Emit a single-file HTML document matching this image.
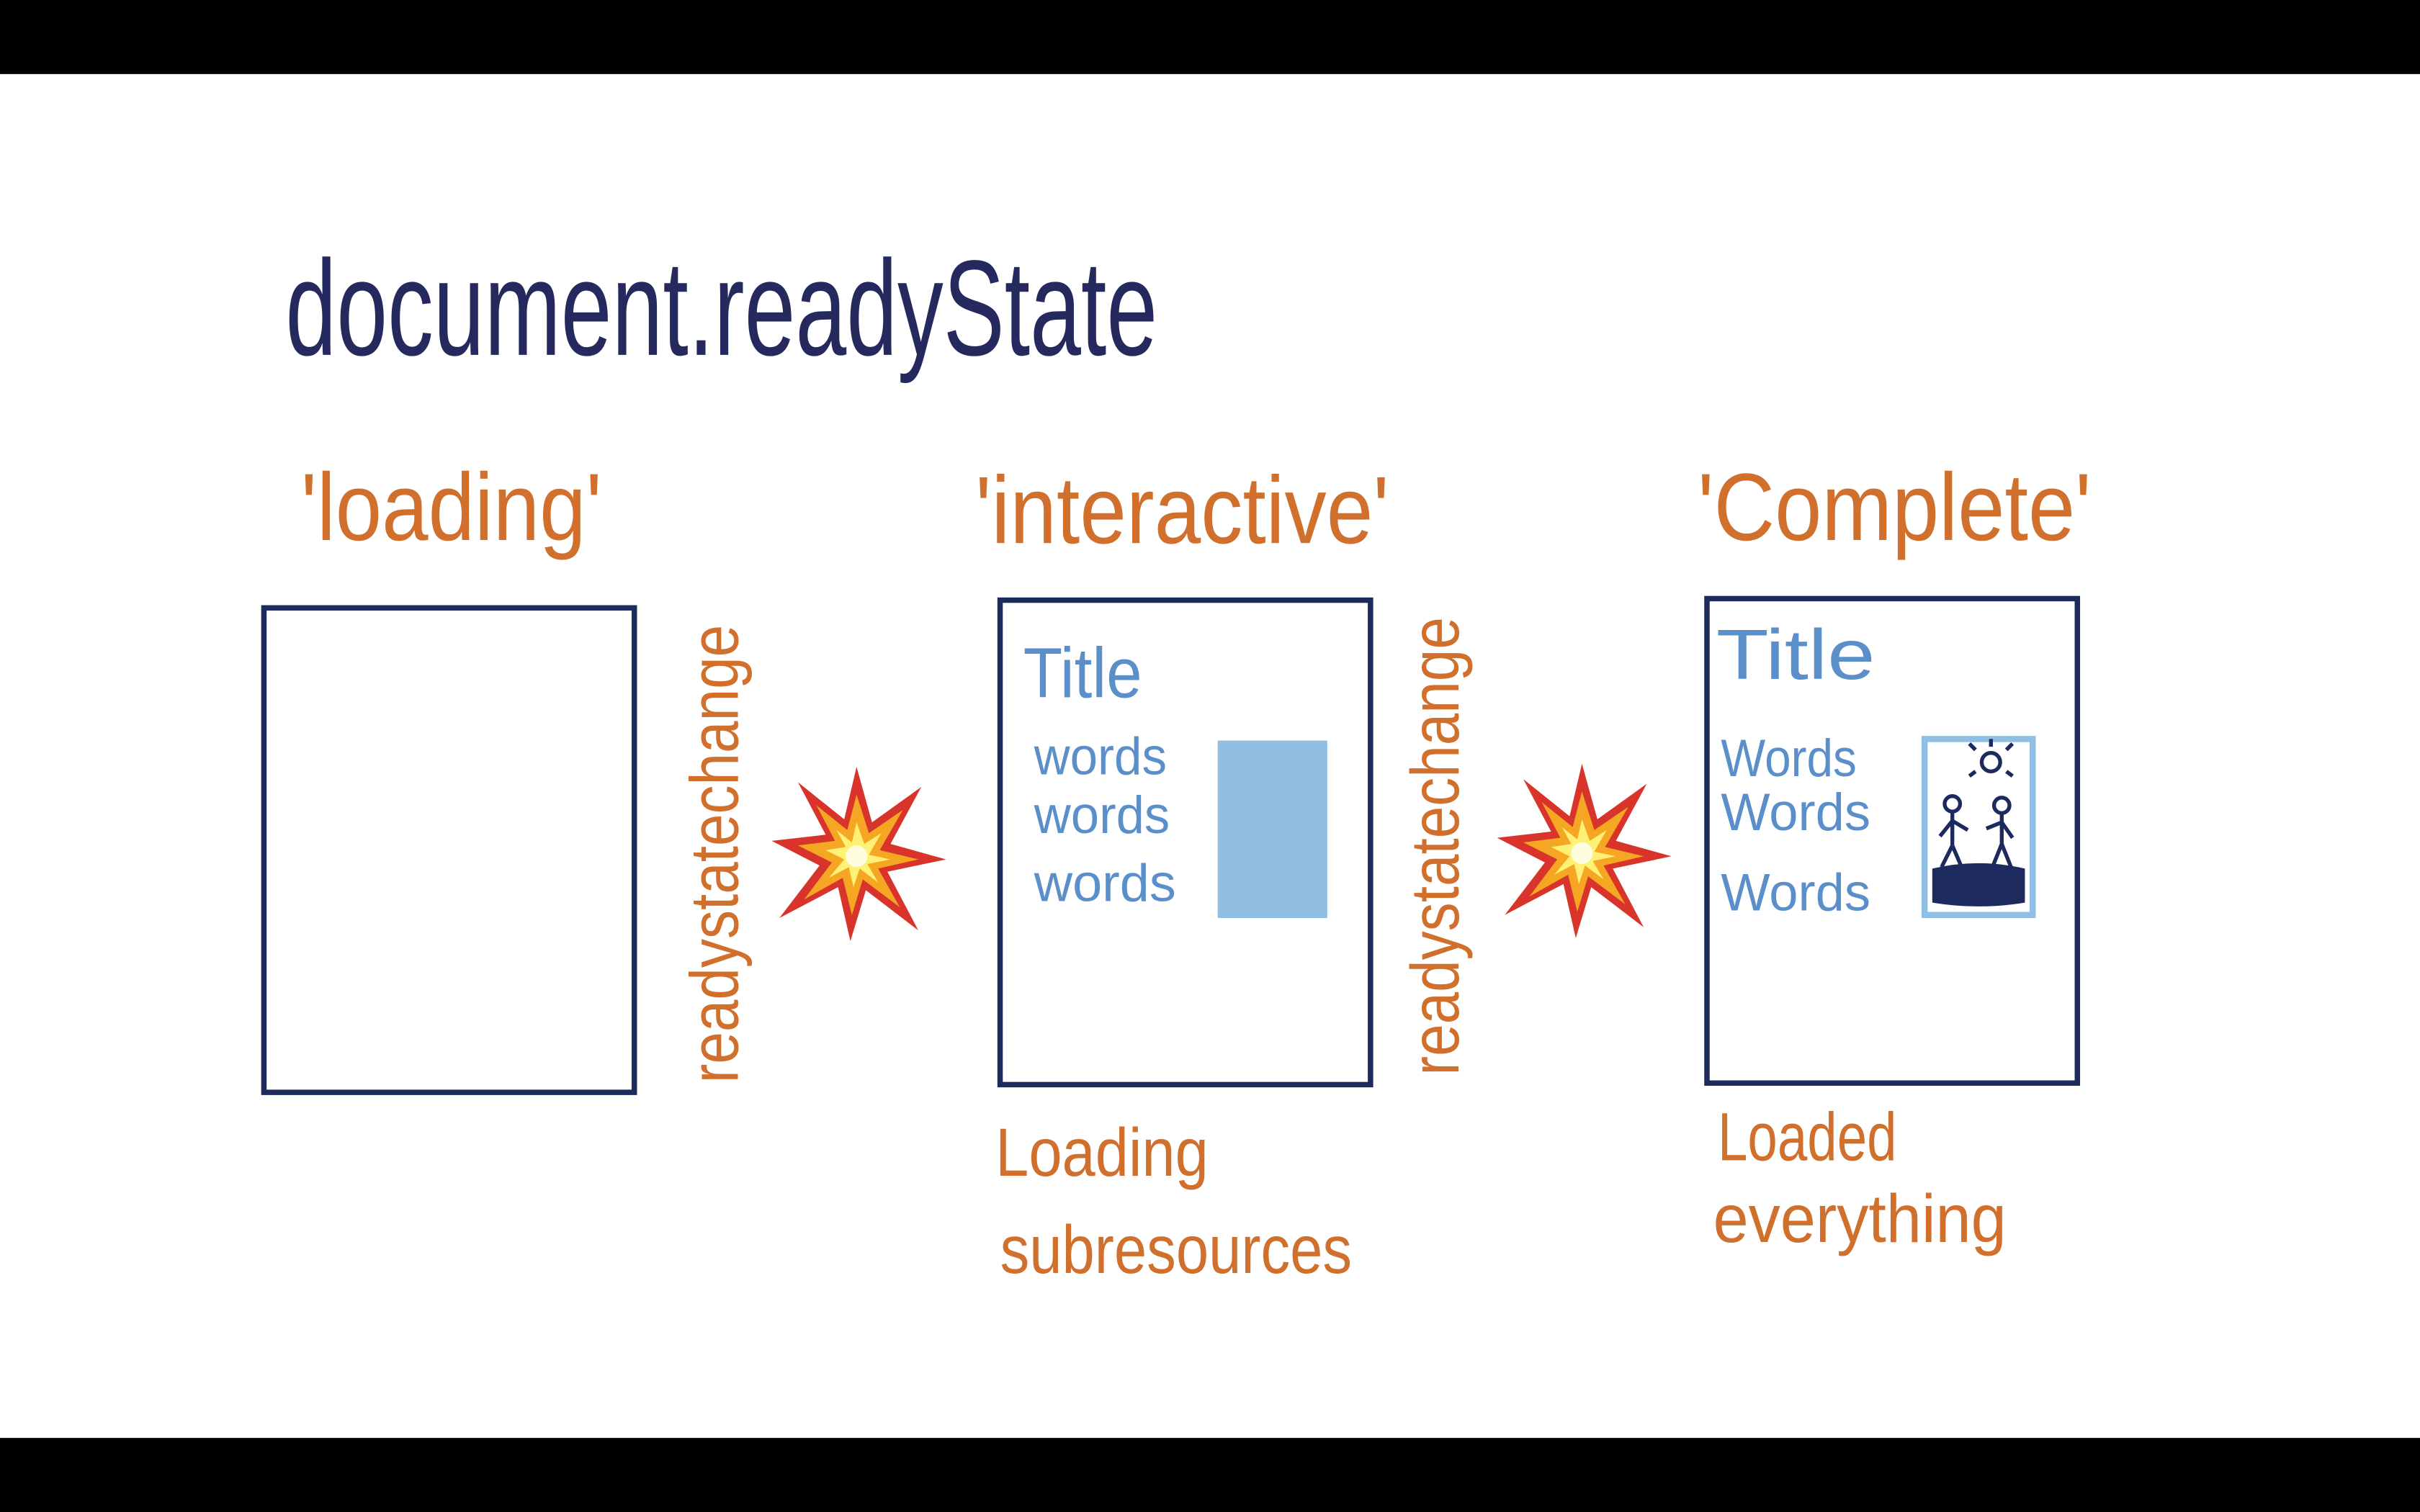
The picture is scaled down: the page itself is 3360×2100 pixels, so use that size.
<!DOCTYPE html>
<html><head><meta charset="utf-8"><style>
html,body{margin:0;padding:0;background:#000;}
svg{display:block;}
text{font-family:"Liberation Sans",sans-serif;}
</style></head><body>
<svg width="3360" height="2100" viewBox="0 0 1568 980" xmlns="http://www.w3.org/2000/svg">
<defs>
<g id="boom">
<polygon points="0,-58 10,-22 42,-45 22,-8 58,2 20,10 40,48 6,22 -4,55 -12,20 -50,40 -24,6 -55,-10 -20,-14 -38,-48 -8,-24" fill="#d9342b"/>
<polygon points="0,-40 8,-15 30,-30 15,-4 40,2 14,8 28,33 4,15 -3,38 -9,14 -34,28 -16,4 -38,-7 -14,-10 -26,-33 -6,-17" fill="#f5a623"/>
<polygon points="0,-22 5,-8 16,-15 8,-1 22,2 7,5 14,17 2,8 -2,20 -5,7 -18,14 -8,2 -20,-4 -7,-6 -13,-17 -3,-9" fill="#fff176"/>
<circle r="7" fill="#fffde0"/>
</g>
</defs>
<rect x="0" y="48" width="1568" height="884" fill="#fff"/>
<text x="185" y="230" font-size="88" fill="#26295e" textLength="565" lengthAdjust="spacingAndGlyphs">document.readyState</text>
<g fill="#d0702c" font-size="62">
<text x="195" y="350" textLength="195" lengthAdjust="spacingAndGlyphs">'loading'</text>
<text x="632" y="352" textLength="268" lengthAdjust="spacingAndGlyphs">'interactive'</text>
<text x="1100" y="350" textLength="255" lengthAdjust="spacingAndGlyphs">'Complete'</text>
</g>
<g fill="none" stroke="#1c2a5e" stroke-width="3.5">
<rect x="171" y="394" width="240" height="314"/>
<rect x="648" y="389" width="240" height="314"/>
<rect x="1106" y="388" width="240" height="314"/>
</g>
<g fill="#d0702c" font-size="44">
<text transform="translate(478,702) rotate(-90)" textLength="297" lengthAdjust="spacingAndGlyphs">readystatechange</text>
<text transform="translate(945,697) rotate(-90)" textLength="297" lengthAdjust="spacingAndGlyphs">readystatechange</text>
</g>
<use href="#boom" x="555" y="555"/>
<use href="#boom" x="1025" y="553"/>
<g fill="#5b8fc9">
<text x="663" y="452" font-size="46" textLength="77" lengthAdjust="spacingAndGlyphs">Title</text>
<text x="670" y="502" font-size="34" textLength="86" lengthAdjust="spacingAndGlyphs">words</text>
<text x="670" y="540" font-size="34" textLength="88" lengthAdjust="spacingAndGlyphs">words</text>
<text x="670" y="584" font-size="34" textLength="92" lengthAdjust="spacingAndGlyphs">words</text>
<text x="1112" y="440" font-size="46" textLength="103" lengthAdjust="spacingAndGlyphs">Title</text>
<text x="1115" y="503" font-size="34" textLength="88" lengthAdjust="spacingAndGlyphs">Words</text>
<text x="1115" y="538" font-size="34" textLength="97" lengthAdjust="spacingAndGlyphs">Words</text>
<text x="1115" y="590" font-size="34" textLength="97" lengthAdjust="spacingAndGlyphs">Words</text>
</g>
<rect x="789" y="480" width="71" height="115" fill="#90bfe3"/>
<rect x="1247" y="479" width="70" height="114" fill="#fff" stroke="#90bfe3" stroke-width="4"/>
<g stroke="#1c2a5e" stroke-width="2.5" fill="none">
<circle cx="1290" cy="494" r="6"/>
<path d="M1280 486l-4-4M1300 486l4-4M1290 484v-5M1280 500l-4 3M1300 500l4 3"/>
<circle cx="1265" cy="521" r="5"/><path d="M1265 526v22M1265 532l-8 10M1265 532l10 6M1265 548l-7 14M1265 548l6 14"/>
<circle cx="1297" cy="522" r="5"/><path d="M1297 527v20M1297 533l-10 4M1297 533l7 10M1297 547l-6 15M1297 547l6 15"/>
</g>
<path d="M1252 563 Q1282 556 1312 563 L1312 585 Q1282 590 1252 585 Z" fill="#1c2a5e"/>
<g fill="#d0702c" font-size="44">
<text x="645" y="762" textLength="138" lengthAdjust="spacingAndGlyphs">Loading</text>
<text x="648" y="825" textLength="228" lengthAdjust="spacingAndGlyphs">subresources</text>
<text x="1113" y="752" textLength="116" lengthAdjust="spacingAndGlyphs">Loaded</text>
<text x="1110" y="805" textLength="190" lengthAdjust="spacingAndGlyphs">everything</text>
</g>
</svg>
</body></html>
